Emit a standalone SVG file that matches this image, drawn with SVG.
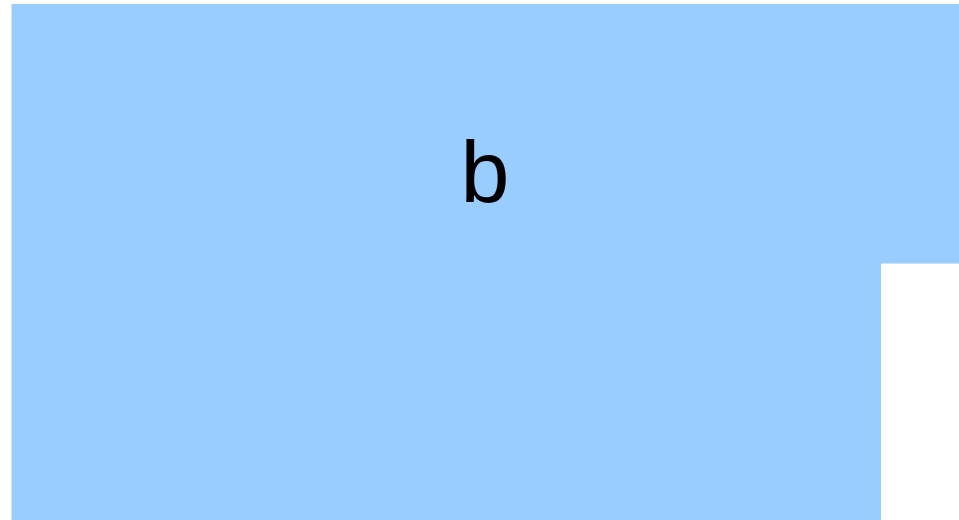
<svg xmlns="http://www.w3.org/2000/svg" width="959" height="520" viewBox="0 0 959 520">
<style>
.shape{fill:#99ccff;stroke:none}
.lbl{font-family:"Liberation Sans",Arial,sans-serif;font-size:88px;fill:#000;text-anchor:middle}
</style>
<g id="b">
<path class="shape" d="M11.5,4 H959 V263.5 H881 V520 H11.5 Z"/>
<text class="lbl" x="485" y="202">b</text>
</g>
<g id="connectors"/>
</svg>
